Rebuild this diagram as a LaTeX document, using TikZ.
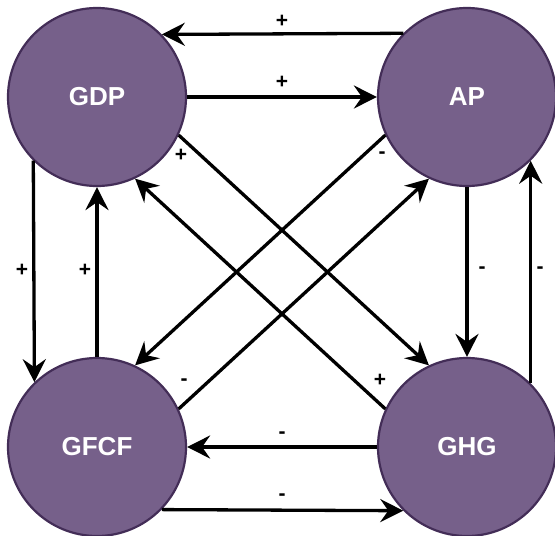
\documentclass[tikz,border=0pt]{standalone}
\usepackage{fontspec}
\setmainfont{Liberation Sans}
\usetikzlibrary{arrows.meta}
\definecolor{cfill}{HTML}{76608A}
\definecolor{cborder}{HTML}{432D57}
\begin{document}
\begin{tikzpicture}[x=1pt,y=-1pt,
  var/.style={circle, fill=cfill, draw=cborder, line width=2.2pt, minimum size=178pt, inner sep=0pt, text=white, font=\bfseries\fontsize{26}{30}\selectfont},
  conn/.style={line width=3.3pt, -{Stealth[length=23pt,width=23pt,inset=8pt]}},
  lbl/.style={font=\bfseries\fontsize{21}{24}\selectfont, inner sep=0pt}]
\useasboundingbox (0,0) rectangle (555,536);
\node[var] (gdp)  at (97,97)   {GDP};
\node[var] (ap)   at (467,97)  {AP};
\node[var] (gfcf) at (97,447)  {GFCF};
\node[var] (ghg)  at (467,447) {GHG};
% horizontal
\draw[conn] (ap.135.8) -- (gdp.44.2);
\draw[conn] (gdp.east) -- (ap.west);
\draw[conn] (ghg.west) -- (gfcf.east);
\draw[conn] (gfcf.-44.2) -- (ghg.-135.8);
% vertical
\draw[conn] (gdp.225.9) -- (gfcf.134.1);
\draw[conn] (gfcf.north) -- (gdp.south);
\draw[conn] (ap.south) -- (ghg.north);
\draw[conn] (ghg.45.9) -- (ap.-45.9);
% diagonals
\draw[conn] (gdp.-25) -- (ghg.115);
\draw[conn] (ghg.155) -- (gdp.-65);
\draw[conn] (ap.205) -- (gfcf.65);
\draw[conn] (gfcf.25) -- (ap.245);
% labels
\node[lbl] (l1) at (282,21) {+};
\node[lbl] (l2) at (282,82) {+};
\node[lbl] (l3) at (282,435) {-};
\node[lbl] (l4) at (282,497) {-};
\node[lbl] (l5) at (22,270) {+};
\node[lbl] (l6) at (85,270) {+};
\node[lbl] (l7) at (482,270) {-};
\node[lbl] (l8) at (540,270) {-};
\node[lbl] (l9) at (181,155) {+};
\node[lbl] (l10) at (382,155) {-};
\node[lbl] (l11) at (184,382) {-};
\node[lbl] (l12) at (380,380) {+};
\end{tikzpicture}
\end{document}
